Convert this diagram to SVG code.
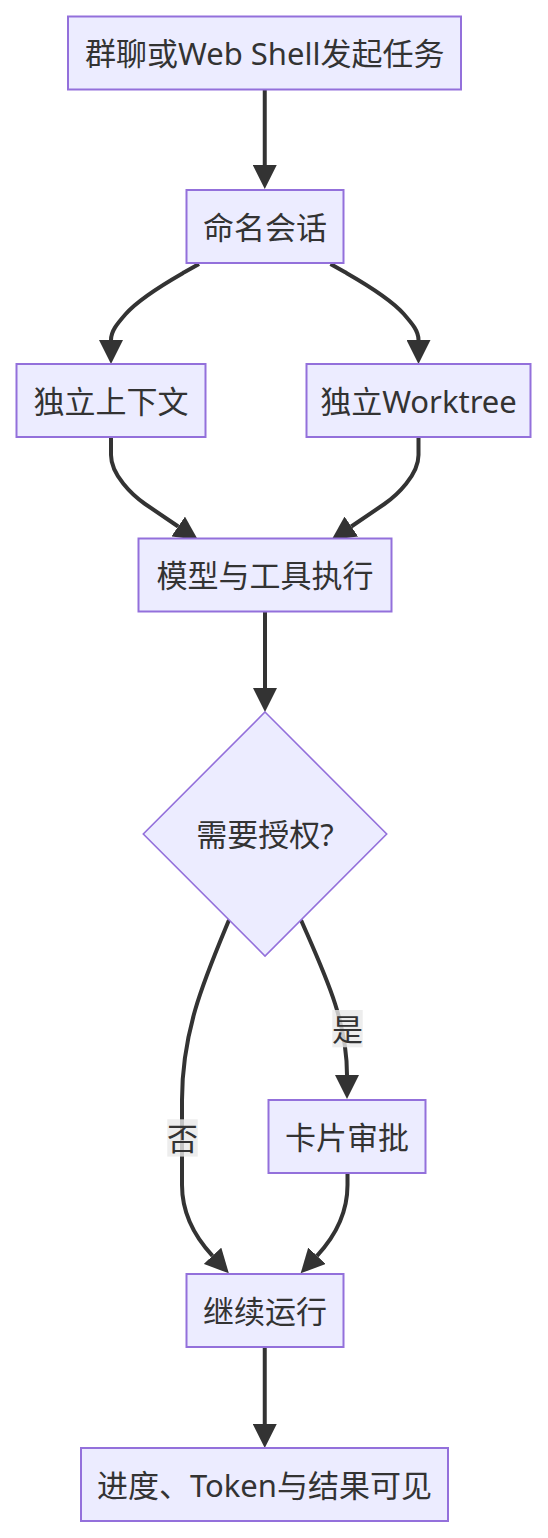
<svg xmlns="http://www.w3.org/2000/svg" width="548" height="1538" viewBox="0 0 548 1538">
<style>
.node rect, .node polygon { fill: #ECECFF; stroke: #9370DB; stroke-width: 2; }
.node polygon { stroke-width: 1.6; }
.label { font-family: "Noto Sans", "Noto Sans CJK SC", sans-serif; font-size: 31px; fill: #333333; text-anchor: middle; dominant-baseline: central; }
.edge { fill: none; stroke: #333333; stroke-width: 4; marker-end: url(#arrow); }
.elbg { fill: rgba(232,232,232,0.8); }
</style>
<defs>
<marker id="arrow" markerUnits="userSpaceOnUse" markerWidth="24" markerHeight="24" viewBox="0 0 24 24" refX="0" refY="12" orient="auto">
<path d="M0,0 L24,12 L0,24 z" fill="#333333"/>
</marker>
</defs>
<rect width="548" height="1538" fill="#ffffff"/>
<g id="connectors">
<path class="edge" d="M264.75,90 L264.75,165"/>
<path class="edge" d="M199,264 L184.3,272.3 C169.7,280.7 140.3,297.3 125.7,314 C117,324 111,331 111,340"/>
<path class="edge" d="M330.5,264 L345.2,272.3 C359.8,280.7 389.2,297.3 403.8,314 C412.5,324 418.5,331 418.5,340"/>
<path class="edge" d="M111,438 L111,455 C111,475 132.7,495.6 145.1,504 L178.2,526.5"/>
<path class="edge" d="M418.5,438 L418.5,455 C418.5,475 396.8,495.6 384.4,504 L351.3,526.5"/>
<path class="edge" d="M265,612 L265,688"/>
<path class="edge" d="M229,920 C205,978 182,1030 182,1100 L182,1185 C182,1215 195,1237 212.5,1255.8"/>
<path class="edge" d="M301,920 C325,975 347,1020 347,1075"/>
<path class="edge" d="M347.5,1174 L347.5,1185 C347.5,1215 334.5,1237 317,1255.8"/>
<path class="edge" d="M264.75,1348 L264.75,1424"/>
<g id="edge-label-yes">
<rect class="elbg" x="332.3" y="1010" width="30.4" height="37.3"/>
<text class="label" x="347.5" y="1028.7">是</text>
</g>
<g id="edge-label-no">
<rect class="elbg" x="167.3" y="1119.3" width="30.4" height="37.3"/>
<text class="label" x="182.5" y="1138">否</text>
</g>
</g>
<g id="n1" class="node">
<rect x="68" y="16.5" width="393" height="73"/>
<text class="label" x="264.75" y="53">群聊或Web Shell发起任务</text>
</g>
<g id="n2" class="node">
<rect x="186.5" y="190" width="157" height="73"/>
<text class="label" x="265" y="226.5">命名会话</text>
</g>
<g id="n3" class="node">
<rect x="16.5" y="364" width="189" height="73"/>
<text class="label" x="111" y="400.5">独立上下文</text>
</g>
<g id="n4" class="node">
<rect x="306.5" y="364" width="224" height="73"/>
<text class="label" x="418.5" y="400.5">独立Worktree</text>
</g>
<g id="n5" class="node">
<rect x="138.5" y="538.5" width="253" height="73"/>
<text class="label" x="265" y="575">模型与工具执行</text>
</g>
<g id="n6" class="node">
<polygon points="265,712 386.7,834 265,956 143.3,834"/>
<text class="label" x="265" y="834">需要授权?</text>
</g>
<g id="n7" class="node">
<rect x="268.5" y="1100" width="157" height="73"/>
<text class="label" x="347" y="1136.5">卡片审批</text>
</g>
<g id="n8" class="node">
<rect x="186.5" y="1274" width="157" height="73"/>
<text class="label" x="265" y="1310.5">继续运行</text>
</g>
<g id="n9" class="node">
<rect x="81" y="1448" width="367" height="73"/>
<text class="label" x="264.5" y="1484.5">进度、Token与结果可见</text>
</g>
</svg>
